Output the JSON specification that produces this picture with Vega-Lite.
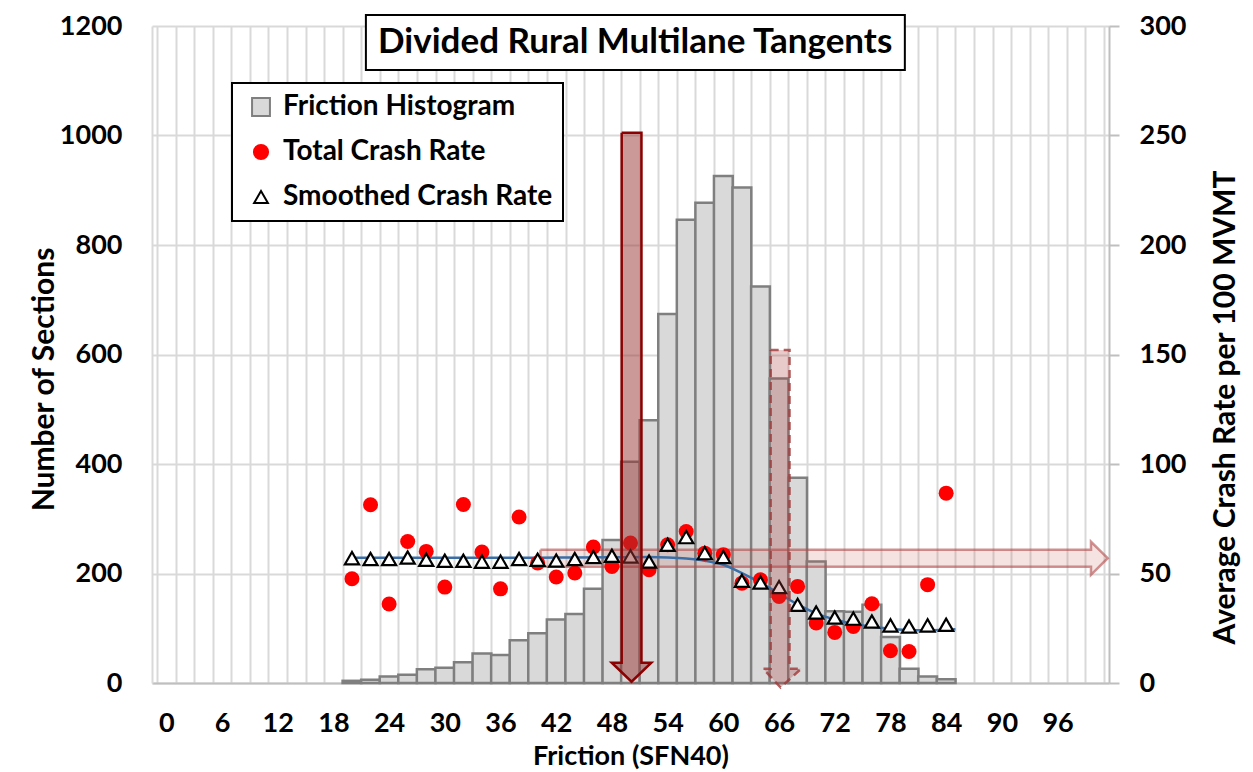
{
  "$schema": "https://vega.github.io/schema/vega-lite/v6.json",
  "width": 957,
  "height": 657,
  "autosize": {"type": "none"},
  "padding": {"left": 152, "top": 26, "right": 144, "bottom": 89},
  "background": "#ffffff",
  "config": {"view": {"stroke": null}, "font": "Lato"},
  "datasets": {
    "hist": [
      {"friction": 20, "sections": 4}, {"friction": 22, "sections": 6}, {"friction": 24, "sections": 12},
      {"friction": 26, "sections": 15}, {"friction": 28, "sections": 25}, {"friction": 30, "sections": 28},
      {"friction": 32, "sections": 38}, {"friction": 34, "sections": 54}, {"friction": 36, "sections": 51},
      {"friction": 38, "sections": 78}, {"friction": 40, "sections": 91}, {"friction": 42, "sections": 116},
      {"friction": 44, "sections": 126}, {"friction": 46, "sections": 172}, {"friction": 48, "sections": 261},
      {"friction": 50, "sections": 404}, {"friction": 52, "sections": 480}, {"friction": 54, "sections": 674},
      {"friction": 56, "sections": 846}, {"friction": 58, "sections": 877}, {"friction": 60, "sections": 926},
      {"friction": 62, "sections": 905}, {"friction": 64, "sections": 724}, {"friction": 66, "sections": 556},
      {"friction": 68, "sections": 375}, {"friction": 70, "sections": 222}, {"friction": 72, "sections": 131},
      {"friction": 74, "sections": 130}, {"friction": 76, "sections": 143}, {"friction": 78, "sections": 84},
      {"friction": 80, "sections": 26}, {"friction": 82, "sections": 12}, {"friction": 84, "sections": 7}
    ],
    "crash": [
      {"friction": 20, "total": 47.6, "smoothed": 57.0}, {"friction": 22, "total": 81.4, "smoothed": 56.6},
      {"friction": 24, "total": 36.1, "smoothed": 56.6}, {"friction": 26, "total": 64.6, "smoothed": 57.3},
      {"friction": 28, "total": 60.1, "smoothed": 56.3}, {"friction": 30, "total": 43.8, "smoothed": 55.8},
      {"friction": 32, "total": 81.5, "smoothed": 55.8}, {"friction": 34, "total": 59.8, "smoothed": 55.4},
      {"friction": 36, "total": 43.0, "smoothed": 55.4}, {"friction": 38, "total": 75.8, "smoothed": 56.6},
      {"friction": 40, "total": 54.8, "smoothed": 56.3}, {"friction": 42, "total": 48.4, "smoothed": 55.9},
      {"friction": 44, "total": 50.2, "smoothed": 56.6}, {"friction": 46, "total": 62.1, "smoothed": 57.5},
      {"friction": 48, "total": 53.2, "smoothed": 58.1}, {"friction": 50, "total": 63.9, "smoothed": 57.8},
      {"friction": 52, "total": 51.7, "smoothed": 55.5}, {"friction": 54, "total": 63.1, "smoothed": 63.1},
      {"friction": 56, "total": 69.2, "smoothed": 66.6}, {"friction": 58, "total": 59.3, "smoothed": 59.3},
      {"friction": 60, "total": 58.6, "smoothed": 57.5}, {"friction": 62, "total": 45.6, "smoothed": 46.7},
      {"friction": 64, "total": 47.1, "smoothed": 45.9}, {"friction": 66, "total": 39.5, "smoothed": 43.8},
      {"friction": 68, "total": 44.1, "smoothed": 35.7}, {"friction": 70, "total": 27.4, "smoothed": 32.2},
      {"friction": 72, "total": 23.1, "smoothed": 29.9}, {"friction": 74, "total": 25.8, "smoothed": 29.4},
      {"friction": 76, "total": 36.2, "smoothed": 28.1}, {"friction": 78, "total": 14.7, "smoothed": 26.3},
      {"friction": 80, "total": 14.4, "smoothed": 25.8}, {"friction": 82, "total": 44.9, "smoothed": 26.3},
      {"friction": 84, "total": 86.7, "smoothed": 26.6}
    ],
    "fit": [
      {"friction": 20, "fit": 57.2}, {"friction": 24, "fit": 57.2}, {"friction": 28, "fit": 57.2},
      {"friction": 32, "fit": 57.2}, {"friction": 36, "fit": 57.2}, {"friction": 40, "fit": 57.2},
      {"friction": 44, "fit": 57.3}, {"friction": 48, "fit": 57.4}, {"friction": 52, "fit": 57.5},
      {"friction": 54, "fit": 57.3}, {"friction": 56, "fit": 56.8}, {"friction": 58, "fit": 55.8},
      {"friction": 60, "fit": 54.0}, {"friction": 62, "fit": 50.2}, {"friction": 64, "fit": 45.8},
      {"friction": 66, "fit": 40.8}, {"friction": 68, "fit": 35.9}, {"friction": 70, "fit": 31.8},
      {"friction": 72, "fit": 29.0}, {"friction": 74, "fit": 27.0}, {"friction": 76, "fit": 25.7},
      {"friction": 78, "fit": 24.8}, {"friction": 80, "fit": 24.2}, {"friction": 82, "fit": 24.1},
      {"friction": 84, "fit": 24.3}, {"friction": 85, "fit": 24.5}
    ]
  },
  "resolve": {"scale": {"y": "independent"}, "axis": {"x": "independent"}},
  "layer": [
    {
      "data": {"name": "hist"},
      "mark": {"type": "bar", "width": 18.77, "stroke": "#7f7f7f", "strokeWidth": 2.5, "opacity": 1},
      "encoding": {
        "x": {
          "field": "friction", "type": "quantitative",
          "scale": {"domain": [-1, 101], "nice": false, "zero": false},
          "axis": {
            "values": [-1,0,1,2,3,4,5,6,7,8,9,10,11,12,13,14,15,16,17,18,19,20,21,22,23,24,25,26,27,28,29,30,31,32,33,34,35,36,37,38,39,40,41,42,43,44,45,46,47,48,49,50,51,52,53,54,55,56,57,58,59,60,61,62,63,64,65,66,67,68,69,70,71,72,73,74,75,76,77,78,79,80,81,82,83,84,85,86,87,88,89,90,91,92,93,94,95,96,97,98,99,100,101],
            "title": "Friction (SFN40)",
            "format": "d",
            "grid": true, "gridColor": "#d9d9d9", "gridWidth": 2,
            "gridOpacity": {"condition": {"test": "datum.value % 2 !== 0", "value": 1}, "value": 0},
            "labelExpr": "(datum.value % 6 === 0 && datum.value >= 0 && datum.value <= 96) ? datum.label : ''",
            "labelOverlap": false, "labelBound": false, "labelFlush": false,
            "ticks": false, "tickSize": 0,
            "domainColor": "#bfbfbf", "domainWidth": 2,
            "labelPadding": 27, "labelFontSize": 27, "labelFontWeight": "bold", "labelColor": "#000000", "labelFont": "Lato",
            "titleFontSize": 27, "titleFontWeight": "bold", "titleColor": "#000000", "titleFont": "Lato",
            "titleY": 81, "titleBaseline": "alphabetic"
          }
        },
        "y": {
          "field": "sections", "type": "quantitative",
          "scale": {"domain": [0, 1200], "nice": false},
          "axis": {
            "orient": "left", "title": "Number of Sections",
            "values": [0, 200, 400, 600, 800, 1000, 1200],
            "format": "d",
            "grid": true, "gridColor": "#d9d9d9", "gridWidth": 2,
            "domainColor": "#d9d9d9", "domainWidth": 2,
            "ticks": false, "tickSize": 0,
            "labelPadding": 30, "labelFontSize": 27, "labelFontWeight": "bold", "labelColor": "#000000", "labelFont": "Lato",
            "titleFontSize": 30, "titleFontWeight": "bold", "titleColor": "#000000", "titleFont": "Lato",
            "titleAngle": 270, "titleX": -99, "titleY": 353, "titleBaseline": "alphabetic", "titleAlign": "center"
          }
        },
        "color": {
          "datum": "Friction Histogram", "type": "nominal",
          "scale": {"domain": ["Friction Histogram", "Total Crash Rate", "Smoothed Crash Rate"], "range": ["#d9d9d9", "#ff0000", "#ffffff"]},
          "legend": {
            "title": null, "orient": "none", "legendX": 80, "legendY": 57, "direction": "vertical",
            "padding": 10, "rowPadding": 17, "symbolOffset": 5, "labelOffset": 8,
            "labelFont": "Lato", "labelFontSize": 28, "labelFontWeight": "bold", "labelColor": "#000000", "labelLimit": 400,
            "strokeColor": "#000000", "fillColor": "#ffffff",
            "symbolSize": 340, "symbolStrokeWidth": 2,
            "symbolStrokeColor": {"expr": "datum.value === 'Friction Histogram' ? '#7f7f7f' : datum.value === 'Total Crash Rate' ? '#ff0000' : '#000000'"},
            "encoding": {
              "legend": {"strokeWidth": {"value": 2}},
              "symbols": {
                "shape": {"value": {"expr": "datum.value === 'Friction Histogram' ? 'square' : datum.value === 'Total Crash Rate' ? 'circle' : 'triangle-up'"}},
                "size": {"value": {"expr": "datum.value === 'Friction Histogram' ? 320 : datum.value === 'Total Crash Rate' ? 200 : 190"}},
                "strokeWidth": {"value": 2},
                "opacity": {"value": 1}
              }
            }
          }
        }
      }
    },
    {
      "layer": [
        {
          "data": {"values": [
            {"i": 0, "x": 40.3, "y": 60.8}, {"i": 1, "x": 99.6, "y": 60.8}, {"i": 2, "x": 99.6, "y": 64.5},
            {"i": 3, "x": 101.4, "y": 57.0}, {"i": 4, "x": 99.6, "y": 49.4}, {"i": 5, "x": 99.6, "y": 53.1},
            {"i": 6, "x": 40.3, "y": 53.1}, {"i": 7, "x": 40.3, "y": 60.8}
          ]},
          "mark": {"type": "line", "fill": "#c0504d", "fillOpacity": 0.16, "stroke": "#b04a4a", "strokeOpacity": 0.6, "strokeWidth": 2.5, "strokeJoin": "miter"},
          "encoding": {
            "x": {"field": "x", "type": "quantitative", "scale": {"domain": [-1, 101], "nice": false, "zero": false}, "axis": null},
            "y": {"field": "y", "type": "quantitative", "scale": {"domain": [0, 300], "nice": false}},
            "order": {"field": "i"}
          }
        },
        {
          "data": {"name": "fit"},
          "mark": {"type": "line", "color": "#3a6ea5", "strokeWidth": 2.5, "interpolate": "monotone"},
          "encoding": {
            "x": {"field": "friction", "type": "quantitative", "scale": {"domain": [-1, 101], "nice": false, "zero": false}, "axis": null},
            "y": {"field": "fit", "type": "quantitative", "scale": {"domain": [0, 300], "nice": false}}
          }
        },
        {
          "data": {"name": "crash"},
          "mark": {"type": "circle", "size": 225, "opacity": 1},
          "encoding": {
            "x": {"field": "friction", "type": "quantitative", "scale": {"domain": [-1, 101], "nice": false, "zero": false}, "axis": null},
            "y": {
              "field": "total", "type": "quantitative",
              "scale": {"domain": [0, 300], "nice": false},
              "axis": {
                "orient": "right", "title": "Average Crash Rate per 100 MVMT",
                "values": [0, 50, 100, 150, 200, 250, 300],
                "format": "d",
                "grid": false,
                "domainColor": "#bfbfbf", "domainWidth": 2,
                "ticks": true, "tickSize": 10, "tickColor": "#bfbfbf", "tickWidth": 2,
                "labelPadding": 20, "labelFontSize": 27, "labelFontWeight": "bold", "labelColor": "#000000", "labelFont": "Lato",
                "titleFontSize": 30, "titleFontWeight": "bold", "titleColor": "#000000", "titleFont": "Lato",
                "titleAngle": 270, "titleX": 125, "titleY": 381, "titleBaseline": "alphabetic", "titleAlign": "center"
              }
            },
            "color": {"datum": "Total Crash Rate", "type": "nominal"}
          }
        },
        {
          "data": {"name": "crash"},
          "mark": {"type": "point", "shape": "triangle-up", "filled": true, "fill": "#ffffff", "fillOpacity": 1, "stroke": "#000000", "strokeWidth": 2.2, "size": 200, "opacity": 1},
          "encoding": {
            "x": {"field": "friction", "type": "quantitative", "scale": {"domain": [-1, 101], "nice": false, "zero": false}, "axis": null},
            "y": {"field": "smoothed", "type": "quantitative", "scale": {"domain": [0, 300], "nice": false}},
            "color": {"datum": "Smoothed Crash Rate", "type": "nominal"}
          }
        },
        {
          "data": {"values": [
            {"i": 0, "x": 49.05, "y": 251.2}, {"i": 1, "x": 51.18, "y": 251.2}, {"i": 2, "x": 51.18, "y": 9.3},
            {"i": 3, "x": 52.24, "y": 9.3}, {"i": 4, "x": 50.11, "y": 0.6}, {"i": 5, "x": 47.98, "y": 9.3},
            {"i": 6, "x": 49.05, "y": 9.3}, {"i": 7, "x": 49.05, "y": 251.2}
          ]},
          "mark": {"type": "line", "fill": "#993333", "fillOpacity": 0.5, "stroke": "#8b0000", "strokeWidth": 2.5, "strokeJoin": "miter"},
          "encoding": {
            "x": {"field": "x", "type": "quantitative", "scale": {"domain": [-1, 101], "nice": false, "zero": false}, "axis": null},
            "y": {"field": "y", "type": "quantitative", "scale": {"domain": [0, 300], "nice": false}},
            "order": {"field": "i"}
          }
        },
        {
          "data": {"values": [
            {"i": 0, "x": 65.1, "y": 152.1}, {"i": 1, "x": 67.13, "y": 152.1}, {"i": 2, "x": 67.13, "y": 6.5},
            {"i": 3, "x": 68.37, "y": 6.5}, {"i": 4, "x": 66.17, "y": -2.1}, {"i": 5, "x": 64.29, "y": 6.5},
            {"i": 6, "x": 65.1, "y": 6.5}, {"i": 7, "x": 65.1, "y": 152.1}
          ]},
          "mark": {"type": "line", "fill": "#b04040", "fillOpacity": 0.28, "stroke": "#a03a3a", "strokeOpacity": 0.8, "strokeWidth": 2.5, "strokeDash": [8, 5], "strokeJoin": "miter"},
          "encoding": {
            "x": {"field": "x", "type": "quantitative", "scale": {"domain": [-1, 101], "nice": false, "zero": false}, "axis": null},
            "y": {"field": "y", "type": "quantitative", "scale": {"domain": [0, 300], "nice": false}},
            "order": {"field": "i"}
          }
        },
        {
          "data": {"values": [{}]},
          "mark": {"type": "rect", "fill": "#ffffff", "stroke": "#000000", "strokeWidth": 2},
          "encoding": {
            "x": {"datum": 21.5, "type": "quantitative", "scale": {"domain": [-1, 101], "nice": false, "zero": false}, "axis": null},
            "x2": {"datum": 79.55},
            "y": {"datum": 305.0, "type": "quantitative", "scale": {"domain": [0, 300], "nice": false}},
            "y2": {"datum": 279.9}
          }
        },
        {
          "data": {"values": [{}]},
          "mark": {"type": "text", "font": "Lato", "fontSize": 35, "fontWeight": "bold", "color": "#000000", "align": "center", "baseline": "middle"},
          "encoding": {
            "x": {"datum": 50.5, "type": "quantitative", "scale": {"domain": [-1, 101], "nice": false, "zero": false}, "axis": null},
            "y": {"datum": 292.5, "type": "quantitative", "scale": {"domain": [0, 300], "nice": false}},
            "text": {"value": "Divided Rural Multilane Tangents"}
          }
        }
      ]
    }
  ]
}
